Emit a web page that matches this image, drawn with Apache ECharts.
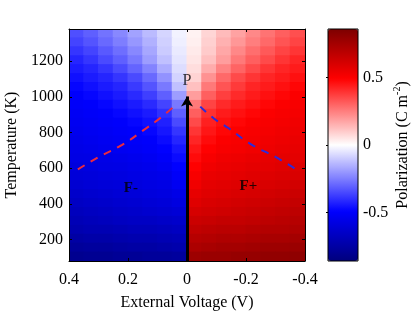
<!DOCTYPE html>
<html>
<head>
<meta charset="utf-8">
<script src="https://cdn.jsdelivr.net/npm/echarts@6/dist/echarts.min.js"></script>
<style>html,body{margin:0;padding:0;background:#fff}#c{width:415px;height:313px}</style>
</head>
<body>
<div id="c"></div>
<script>
// Cell centres (V) from left (0.4 side) to right (-0.4 side)
var voltages = [0.375,0.325,0.275,0.225,0.175,0.125,0.075,0.025,-0.025,-0.075,-0.125,-0.175,-0.225,-0.275,-0.325,-0.375];
// Cell centres (K), top row first
var temperatures = [1355,1305,1255,1205,1155,1105,1055,1005,955,905,855,805,755,705,655,605,555,505,455,405,355,305,255,205,155,105];
// Polarization (C m^-2), one row per temperature
var polarization = [
[-0.34,-0.31,-0.27,-0.23,-0.18,-0.13,-0.08,-0.025,0.025,0.08,0.13,0.18,0.23,0.27,0.31,0.34],
[-0.36,-0.33,-0.29,-0.25,-0.20,-0.15,-0.09,-0.03,0.03,0.09,0.15,0.20,0.25,0.29,0.33,0.36],
[-0.39,-0.36,-0.32,-0.28,-0.23,-0.17,-0.10,-0.04,0.04,0.10,0.17,0.23,0.28,0.32,0.36,0.39],
[-0.42,-0.39,-0.35,-0.31,-0.26,-0.19,-0.12,-0.05,0.05,0.12,0.19,0.26,0.31,0.35,0.39,0.42],
[-0.44,-0.42,-0.39,-0.35,-0.30,-0.24,-0.16,-0.065,0.065,0.16,0.24,0.30,0.35,0.39,0.42,0.44],
[-0.46,-0.44,-0.42,-0.39,-0.35,-0.29,-0.21,-0.085,0.085,0.21,0.29,0.35,0.39,0.42,0.44,0.46],
[-0.48,-0.46,-0.44,-0.42,-0.38,-0.33,-0.26,-0.12,0.12,0.26,0.33,0.38,0.42,0.44,0.46,0.48],
[-0.50,-0.48,-0.46,-0.44,-0.41,-0.37,-0.31,-0.19,0.19,0.31,0.37,0.41,0.44,0.46,0.48,0.50],
[-0.51,-0.50,-0.48,-0.46,-0.44,-0.41,-0.36,-0.26,0.26,0.36,0.41,0.44,0.46,0.48,0.50,0.51],
[-0.52,-0.51,-0.50,-0.48,-0.46,-0.44,-0.40,-0.31,0.31,0.40,0.44,0.46,0.48,0.50,0.51,0.52],
[-0.53,-0.52,-0.51,-0.50,-0.48,-0.46,-0.43,-0.35,0.35,0.43,0.46,0.48,0.50,0.51,0.52,0.53],
[-0.54,-0.53,-0.52,-0.51,-0.50,-0.48,-0.45,-0.39,0.39,0.45,0.48,0.50,0.51,0.52,0.53,0.54],
[-0.55,-0.54,-0.53,-0.52,-0.51,-0.50,-0.47,-0.42,0.42,0.47,0.50,0.51,0.52,0.53,0.54,0.55],
[-0.56,-0.55,-0.54,-0.53,-0.52,-0.51,-0.49,-0.45,0.45,0.49,0.51,0.52,0.53,0.54,0.55,0.56],
[-0.57,-0.565,-0.56,-0.55,-0.54,-0.53,-0.51,-0.47,0.47,0.51,0.53,0.54,0.55,0.56,0.565,0.57],
[-0.59,-0.58,-0.57,-0.565,-0.555,-0.545,-0.53,-0.49,0.49,0.53,0.545,0.555,0.565,0.57,0.58,0.59],
[-0.60,-0.595,-0.585,-0.58,-0.57,-0.56,-0.55,-0.51,0.51,0.55,0.56,0.57,0.58,0.585,0.595,0.60],
[-0.62,-0.61,-0.60,-0.595,-0.585,-0.575,-0.565,-0.53,0.53,0.565,0.575,0.585,0.595,0.60,0.61,0.62],
[-0.64,-0.63,-0.62,-0.61,-0.60,-0.59,-0.58,-0.56,0.56,0.58,0.59,0.60,0.61,0.62,0.63,0.64],
[-0.66,-0.65,-0.64,-0.63,-0.62,-0.61,-0.60,-0.58,0.58,0.60,0.61,0.62,0.63,0.64,0.65,0.66],
[-0.68,-0.67,-0.66,-0.65,-0.64,-0.63,-0.62,-0.61,0.61,0.62,0.63,0.64,0.65,0.66,0.67,0.68],
[-0.70,-0.69,-0.68,-0.67,-0.66,-0.66,-0.65,-0.64,0.64,0.65,0.66,0.66,0.67,0.68,0.69,0.70],
[-0.72,-0.71,-0.71,-0.70,-0.69,-0.69,-0.68,-0.67,0.67,0.68,0.69,0.69,0.70,0.71,0.71,0.72],
[-0.75,-0.74,-0.74,-0.73,-0.72,-0.72,-0.71,-0.70,0.70,0.71,0.72,0.72,0.73,0.74,0.74,0.75],
[-0.78,-0.77,-0.77,-0.76,-0.75,-0.75,-0.74,-0.73,0.73,0.74,0.75,0.75,0.76,0.77,0.77,0.78],
[-0.81,-0.80,-0.80,-0.79,-0.79,-0.78,-0.78,-0.77,0.77,0.78,0.78,0.79,0.79,0.80,0.80,0.81]
];
// Phase boundary dashed curves
var boundaryNegV = [[0.37,593],[0.30,662],[0.22,731],[0.14,822],[0.09,882],[0.045,945]];
var boundaryPosV = [[-0.045,945],[-0.09,880],[-0.14,825],[-0.22,731],[-0.30,663],[-0.37,593]];
// Arrow along V = 0
var arrowPath = [[0,80],[0,1002]];
// Region labels
var annotations = [{text:'P', v:0, t:1088, bold:false},{text:'F-', v:0.19, t:491, bold:true},{text:'F+', v:-0.208, t:502, bold:true}];
// Tick values
var xTicks = [-0.4,-0.2,0,0.2,0.4];
var yTicks = [200,400,600,800,1000,1200];
var cbTicks = [-0.5,0,0.5];
var cbColors = ['#00007d','#0000a9','#0000d4','#0000ff','#4040ff','#8080ff','#bfbfff','#ffffff','#ffbfbf','#ff8080','#ff4040','#ff0000','#d40000','#a90000','#7d0000'];

var FONT = "'Liberation Serif','Times New Roman',serif";
var cells = [];
for (var i = 0; i < temperatures.length; i++) {
  for (var j = 0; j < voltages.length; j++) {
    cells.push([voltages[j], temperatures[i], polarization[i][j]]);
  }
}
var chart = echarts.init(document.getElementById('c'), null, {renderer:'canvas'});
var fmt1 = function(v){ return (Math.round(v*10)/10).toString(); };
var fmtInt = function(v){ return String(Math.round(v)); };
var tickStyle = {inside:true, length:3, lineStyle:{color:'#000', width:1}};
chart.setOption({
  animation:false,
  backgroundColor:'#fff',
  textStyle:{fontFamily:FONT},
  grid:[
    {left:69, top:29, width:236, height:232, show:false, containLabel:false, outerBoundsMode:'none'},
    {left:328, top:29, width:30, height:232, show:true, z:10, borderColor:'#000', borderWidth:1, backgroundColor:'rgba(0,0,0,0)', containLabel:false, outerBoundsMode:'none'}
  ],
  xAxis:[
    {gridIndex:0, type:'value', min:-0.4, max:0.4, inverse:true, position:'bottom', z:10,
     name:'External Voltage (V)', nameLocation:'middle', nameGap:34,
     nameTextStyle:{fontFamily:FONT, fontSize:16, color:'#000'},
     axisLine:{show:true, onZero:false, lineStyle:{color:'#000', width:1}},
     axisTick:Object.assign({customValues:xTicks}, tickStyle),
     axisLabel:{customValues:xTicks, formatter:fmt1, margin:11, fontFamily:FONT, fontSize:16, color:'#000'},
     splitLine:{show:false}},
    {gridIndex:0, type:'value', min:-0.4, max:0.4, inverse:true, position:'top', z:10,
     axisLine:{show:true, onZero:false, lineStyle:{color:'#000', width:1}},
     axisTick:Object.assign({customValues:xTicks}, tickStyle),
     axisLabel:{show:false}, splitLine:{show:false}},
    {gridIndex:1, type:'value', min:0, max:1, show:false}
  ],
  yAxis:[
    {gridIndex:0, type:'value', min:80, max:1380, position:'left', z:10,
     name:'Temperature (K)', nameLocation:'middle', nameGap:40, nameRotate:90,
     nameTextStyle:{fontFamily:FONT, fontSize:16, color:'#000'},
     axisLine:{show:true, onZero:false, lineStyle:{color:'#000', width:1}},
     axisTick:Object.assign({customValues:yTicks}, tickStyle),
     axisLabel:{customValues:yTicks, formatter:fmtInt, margin:6, fontFamily:FONT, fontSize:16, color:'#000'},
     splitLine:{show:false}},
    {gridIndex:0, type:'value', min:80, max:1380, position:'right', z:10,
     axisLine:{show:true, onZero:false, lineStyle:{color:'#000', width:1}},
     axisTick:Object.assign({customValues:yTicks}, tickStyle),
     axisLabel:{show:false}, splitLine:{show:false}},
    {gridIndex:1, type:'value', min:-0.86, max:0.86, position:'right', z:11,
     name:'Polarization (C m{sup|-2})', nameLocation:'middle', nameGap:27, nameRotate:90,
     nameTextStyle:{fontFamily:FONT, fontSize:16, color:'#000',
       rich:{sup:{fontFamily:FONT, fontSize:10, color:'#000', verticalAlign:'top', lineHeight:22}}},
     axisLine:{show:false},
     axisTick:{show:true, inside:true, length:2, customValues:cbTicks, lineStyle:{color:'#000'}},
     axisLabel:{customValues:cbTicks, margin:5, fontFamily:FONT, fontSize:16, color:'#000', formatter:fmt1},
     splitLine:{show:false}}
  ],
  visualMap:{
    type:'continuous', min:-0.86, max:0.86, seriesIndex:0, dimension:2,
    show:true, calculable:false, left:328, top:29, itemWidth:30, itemHeight:232,
    padding:0, text:null, hoverLink:false, borderWidth:0,
    inRange:{color:cbColors}
  },
  series:[
    {type:'custom', xAxisIndex:0, yAxisIndex:0, clip:true, silent:true, data:cells,
     encode:{x:0, y:1},
     renderItem:function(params, api){
       var v = api.value(0), t = api.value(1);
       var a = api.coord([v + 0.025, t + 25]);
       var b = api.coord([v - 0.025, t - 25]);
       var x = Math.min(a[0], b[0]), y = Math.min(a[1], b[1]);
       return {type:'rect', shape:{x:x-0.5, y:y-0.5, width:Math.abs(a[0]-b[0])+1, height:Math.abs(a[1]-b[1])+1},
               style:{fill:api.visual('color')}};
     }},
    {type:'line', xAxisIndex:0, yAxisIndex:0, data:boundaryNegV, smooth:true, symbol:'none', z:5, silent:true,
     lineStyle:{color:'#ee2a3c', width:2, type:[8,7]}},
    {type:'line', xAxisIndex:0, yAxisIndex:0, data:boundaryPosV, smooth:true, symbol:'none', z:5, silent:true,
     lineStyle:{color:'#2b2bdc', width:2, type:[8,7]}},
    {type:'line', xAxisIndex:0, yAxisIndex:0, data:[], z:6, silent:true,
     markLine:{silent:true, symbol:['none','arrow'], symbolSize:[9,10], animation:false,
       label:{show:false}, lineStyle:{color:'#000', width:3, type:'solid'},
       data:[[{coord:arrowPath[0]},{coord:arrowPath[1]}]]}},
    {type:'scatter', xAxisIndex:0, yAxisIndex:0, z:7, silent:true, symbolSize:0,
     data:annotations.map(function(a){ return {value:[a.v, a.t], name:a.text,
       label:{fontWeight:a.bold ? 'bold' : 'normal', fontSize:a.bold ? 15 : 16}}; }),
     label:{show:true, position:'inside', formatter:'{b}', fontFamily:FONT, fontSize:15, color:'#000'}}
  ]
});
</script>
</body>
</html>
